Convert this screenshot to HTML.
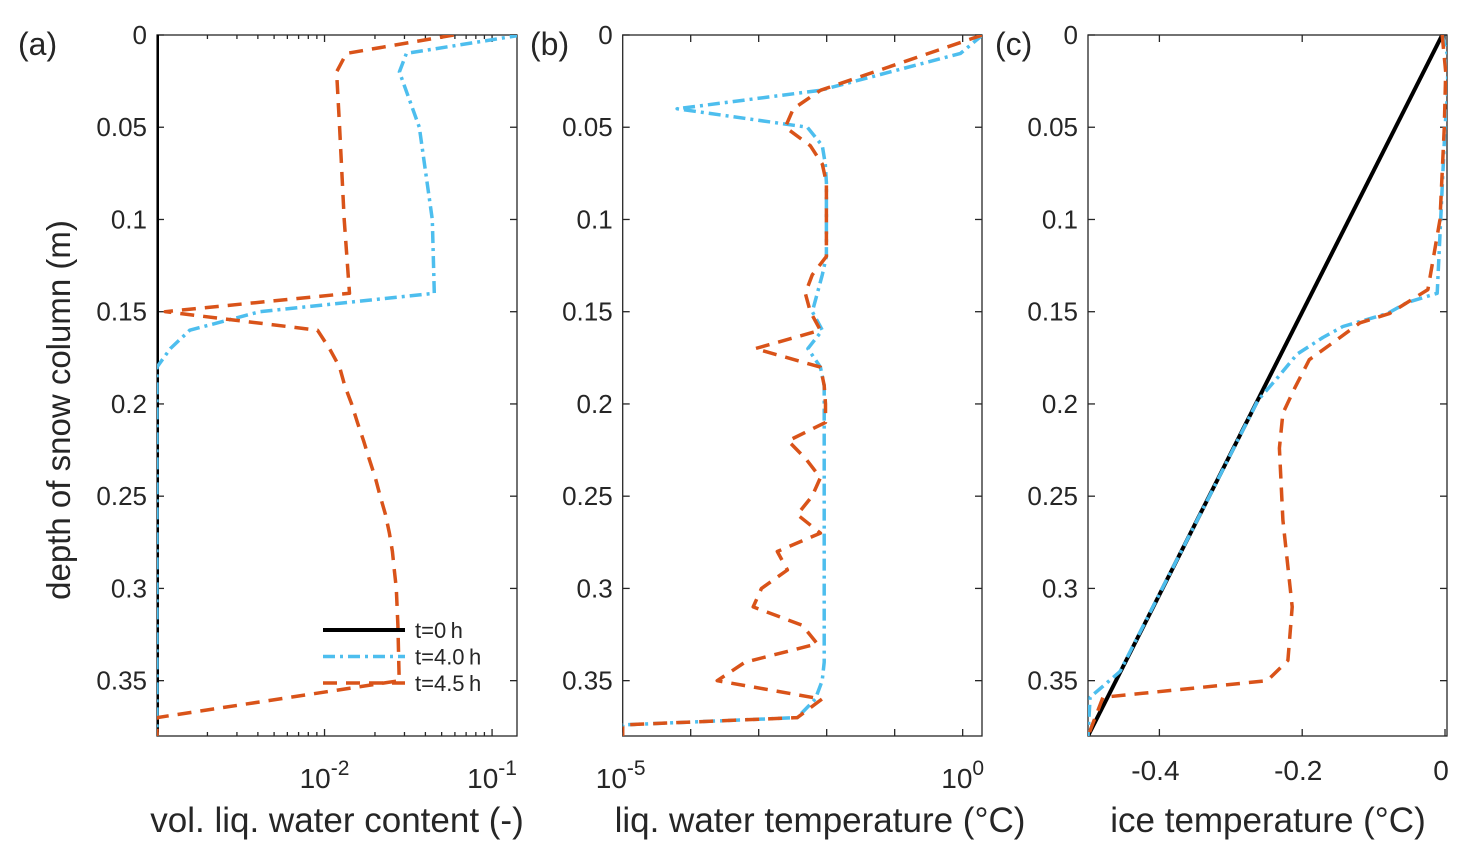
<!DOCTYPE html>
<html><head><meta charset="utf-8"><style>
body{margin:0;background:#fff;}
svg text{font-family:"Liberation Sans",Arial,sans-serif;fill:#262626;}
</style></head><body>
<svg id="fig" width="1468" height="860" xmlns="http://www.w3.org/2000/svg">
<defs>
<clipPath id="ca"><rect x="157" y="35" width="360" height="701"/></clipPath>
<clipPath id="cb"><rect x="622.7" y="35" width="359.3" height="701"/></clipPath>
<clipPath id="cc"><rect x="1088" y="35" width="359" height="701"/></clipPath>
</defs>
<g id="root"></g>
</svg>
<script>
// ---- data ----
const depthTicks=[0,0.05,0.1,0.15,0.2,0.25,0.3,0.35];
const depthTickLabels=["0","0.05","0.1","0.15","0.2","0.25","0.3","0.35"];
// panel a: vol liquid water content
const aBlackDepth=[0,0.38];
const aBlackVal=[0.001,0.001];
const aBlueDepth=[0,0.01,0.02,0.05,0.1,0.14,0.15,0.16,0.17,0.18,0.38];
const aBlueVal=[0.15,0.0308,0.028,0.0368,0.044,0.0452,0.0041,0.00157,0.0012,0.001,0.001];
const aOrangeDepth=[0,0.01,0.02,0.05,0.1,0.14,0.15,0.16,0.17,0.18,0.19,0.2,0.21,0.22,0.23,0.24,0.25,0.26,0.27,0.28,0.29,0.3,0.32,0.35,0.37,0.38];
const aOrangeVal=[0.059,0.0135,0.0118,0.0123,0.0131,0.0141,0.00112,0.00908,0.0107,0.0123,0.0132,0.0145,0.0157,0.0171,0.0185,0.0201,0.0215,0.0231,0.0244,0.0254,0.0261,0.0268,0.0274,0.0279,0.001,0.001];
// panel b: liquid water temperature
const bBlueDepth=[0,0.01,0.03,0.04,0.05,0.06,0.07,0.08,0.12,0.13,0.14,0.15,0.16,0.17,0.18,0.19,0.34,0.35,0.36,0.37,0.374,0.38];
const bBlueVal=[1.96,0.93,0.00807,0.000063,0.00519,0.00863,0.00955,0.00989,0.00989,0.00863,0.00728,0.00614,0.00863,0.0053,0.00807,0.0092,0.0092,0.0086,0.0068,0.0037,0.00001,0.00001];
const bOrangeDepth=[0,0.03,0.04,0.05,0.06,0.07,0.08,0.12,0.13,0.14,0.15,0.16,0.17,0.18,0.19,0.2,0.21,0.22,0.23,0.24,0.25,0.26,0.27,0.28,0.29,0.3,0.31,0.32,0.33,0.34,0.35,0.36,0.37,0.374,0.38];
const bOrangeVal=[1.96,0.00807,0.00323,0.00246,0.00574,0.00863,0.00989,0.00989,0.00614,0.00484,0.00574,0.00807,0.00089,0.00807,0.0092,0.0096,0.0096,0.00272,0.0050,0.00807,0.0061,0.0037,0.00807,0.00188,0.00264,0.0011,0.00083,0.00438,0.00728,0.00063,0.000245,0.0085,0.0037,0.00001,0.00001];
// panel c: ice temperature
const cBlackDepth=[0,0.38];
const cBlackVal=[-0.004,-0.5];
const cBlueDepth=[0,0.01,0.03,0.05,0.1,0.14,0.145,0.151,0.158,0.164,0.173,0.186,0.198,0.25,0.3,0.345,0.359,0.38];
const cBlueVal=[-0.004,0.003,0.004,0,-0.006,-0.011,-0.053,-0.081,-0.143,-0.171,-0.207,-0.235,-0.262,-0.33,-0.396,-0.455,-0.497,-0.5];
const cOrangeDepth=[0,0.02,0.05,0.1,0.138,0.151,0.156,0.164,0.176,0.191,0.205,0.224,0.263,0.31,0.339,0.35,0.359,0.38];
const cOrangeVal=[-0.004,0.001,-0.001,-0.007,-0.024,-0.078,-0.119,-0.147,-0.19,-0.21,-0.227,-0.232,-0.227,-0.214,-0.22,-0.249,-0.479,-0.5];
const cTicks=[-0.4,-0.2,0];
const cTickLabels=["-0.4","-0.2","0"];
const legendLabels=["t=0\u2009h","t=4.0\u2009h","t=4.5\u2009h"];

// ---- helpers ----
const NS="http://www.w3.org/2000/svg";
const root=document.getElementById('root');
function mk(tag,attrs,parent){const e=document.createElementNS(NS,tag);for(const k in attrs)e.setAttribute(k,attrs[k]);(parent||root).appendChild(e);return e;}
const Y0=35,Y1=736;
function yS(d){return Y0+d/0.38*(Y1-Y0);}
function logS(x0,x1,l0,l1){return v=>x0+(Math.log10(v)-l0)/(l1-l0)*(x1-x0);}
function linS(x0,x1,v0,v1){return v=>x0+(v-v0)/(v1-v0)*(x1-x0);}
const xa=logS(157,517,-3,Math.log10(0.1)+25/168);
const xb=logS(622.7,982,-5,19.3/67.9);
const xc=linS(1088,1447,-0.5,0.00279);
const BLUE="#4DBEEE",ORANGE="#D95319";
const styles={black:{stroke:"#000","stroke-width":4},blue:{stroke:BLUE,"stroke-width":3.5,"stroke-dasharray":"12 5 3 5"},orange:{stroke:ORANGE,"stroke-width":3.5,"stroke-dasharray":"14 9"}};
function line(xs,depths,vals,style,clip,name){
  const pts=depths.map((d,i)=>xs(vals[i]).toFixed(1)+","+yS(d).toFixed(1)).join(" ");
  const p=mk('polyline',Object.assign({points:pts,fill:"none","clip-path":"url(#"+clip+")","stroke-linejoin":"round"},styles[style]));
  
  
}
function axes(x0,x1,label,lx,pname){
  const g=mk('g',{});
  
  
  mk('rect',{x:x0,y:Y0,width:x1-x0,height:Y1-Y0,fill:"none",stroke:"#262626","stroke-width":1.3},g);
  depthTicks.forEach((d,i)=>{
    const y=yS(d);
    mk('line',{x1:x0,x2:x0+7,y1:y,y2:y,stroke:"#262626","stroke-width":1.3},g);
    mk('line',{x1:x1,x2:x1-7,y1:y,y2:y,stroke:"#262626","stroke-width":1.3},g);
    const t=mk('text',{x:x0-10,y:y+9,"font-size":26,"text-anchor":"end"},g);
    t.textContent=depthTickLabels[i];
    
    
  });
  const pl=mk('text',{x:lx,y:55,"font-size":32},g);
  pl.textContent=label;
  
  
  return g;
}
function xtick(g,x,len){
  mk('line',{x1:x,x2:x,y1:Y1,y2:Y1-len,stroke:"#262626","stroke-width":1.3},g);
  mk('line',{x1:x,x2:x,y1:Y0,y2:Y0+len,stroke:"#262626","stroke-width":1.3},g);
}
function powLabel(g,x,exp){
  const t=mk('text',{x:x,y:788,"font-size":28,"text-anchor":"middle"},g);
  t.innerHTML='10<tspan dy="-13" font-size="21">'+exp+'</tspan>';
  
  
}
function xlabel(x,text,name){
  const t=mk('text',{x:x,y:832,"font-size":35,"text-anchor":"middle"});
  t.textContent=text;
  
  
}

// panel a
const ga=axes(157,517,"(a)",18,"panel-a");
for(let e=-3;e<=-1;e++){for(let m=1;m<=9;m++){const v=m*Math.pow(10,e);const x=xa(v);if(x>157.5&&x<516)xtick(ga,x,m===1?7:4);}}
powLabel(ga,xa(0.01),"-2");powLabel(ga,xa(0.1),"-1");
line(xa,aBlackDepth,aBlackVal,"black","ca","a-line-t0");
line(xa,aBlueDepth,aBlueVal,"blue","ca","a-line-t4-0");
line(xa,aOrangeDepth,aOrangeVal,"orange","ca","a-line-t4-5");
xlabel(337,"vol. liq. water content (-)","a-x-axis-title");
// legend
const lg=mk('g',{});


["black","blue","orange"].forEach((s,i)=>{
  const y=630+i*26.5;
  mk('line',Object.assign({x1:323,x2:405,y1:y,y2:y},styles[s]),lg);
  const t=mk('text',{x:415,y:y+8,"font-size":22},lg);
  t.textContent=legendLabels[i];
  
  
});

// panel b
const gb=axes(622.7,982,"(b)",530,"panel-b");
for(let e=-5;e<=0;e++){const x=xb(Math.pow(10,e));if(x>623.5)xtick(gb,x,7);}
powLabel(gb,xb(1e-5)-2,"-5");powLabel(gb,xb(1),"0");
line(xb,bBlueDepth,bBlueVal,"blue","cb","b-line-t4-0");
line(xb,bOrangeDepth,bOrangeVal,"orange","cb","b-line-t4-5");
xlabel(820,"liq. water temperature (°C)","b-x-axis-title");

// panel c
const gc=axes(1088,1447,"(c)",995,"panel-c");
cTicks.forEach((v,i)=>{const x=xc(v);xtick(gc,x,7);
  const t=mk('text',{x:x-4,y:780,"font-size":28,"text-anchor":"middle"},gc);t.textContent=cTickLabels[i];
  
  });
line(xc,cBlackDepth,cBlackVal,"black","cc","c-line-t0");
line(xc,cBlueDepth,cBlueVal,"blue","cc","c-line-t4-0");
line(xc,cOrangeDepth,cOrangeVal,"orange","cc","c-line-t4-5");
xlabel(1268,"ice temperature (°C)","c-x-axis-title");

// y axis title
const yt=mk('text',{x:0,y:0,"font-size":33,"text-anchor":"middle",transform:"translate(70,410) rotate(-90)"});
yt.textContent="depth of snow column (m)";


</script>
</body></html>
